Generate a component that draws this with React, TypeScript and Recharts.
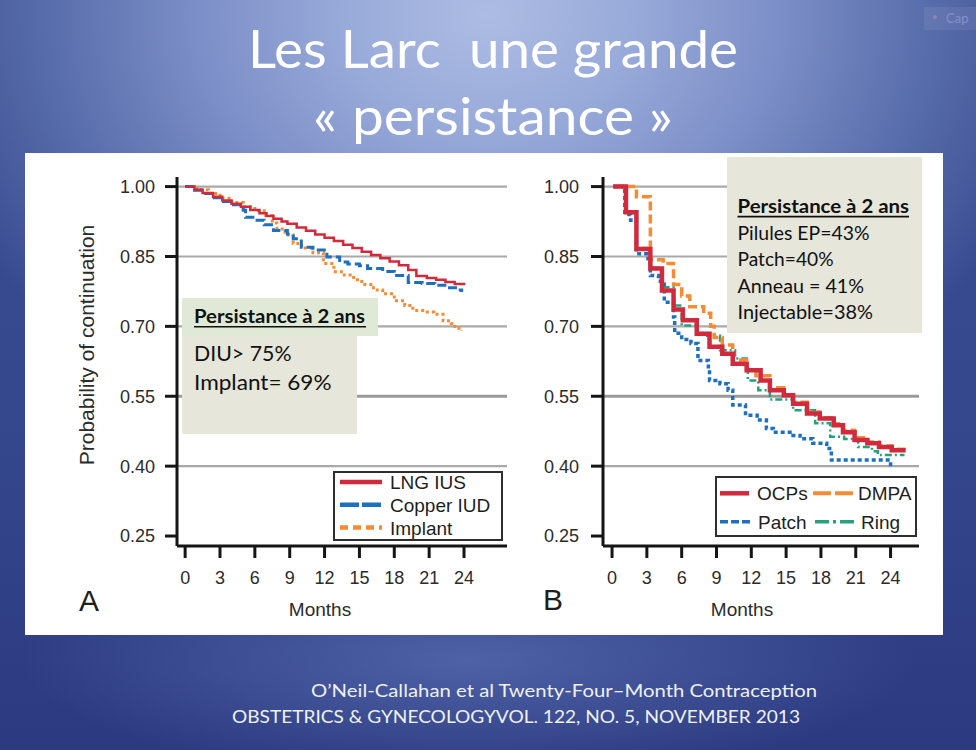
import React from 'react';
import { LineChart, Line, XAxis, YAxis, ReferenceLine, Legend } from 'recharts';

type Pt = { m: number; p: number };
const toPts = (rows: number[][]): Pt[] => rows.map(([m, p]) => ({ m, p }));

// ---------- shared axis values ----------
const monthTicks = [0, 3, 6, 9, 12, 15, 18, 21, 24];
const probTicks = [0.25, 0.4, 0.55, 0.7, 0.85, 1.0];
const gridValues = [0.4, 0.55, 0.7, 0.85, 1.0];

// ---------- Panel A (months, probability of continuation) ----------
const lngIus = toPts([
  [0, 1.0], [0.8, 0.993], [1.5, 0.986], [2.4, 0.978], [3.2, 0.97], [4.0, 0.963], [4.8, 0.957],
  [5.6, 0.95], [6.4, 0.943], [7.0, 0.937], [7.6, 0.931], [8.3, 0.925], [8.8, 0.92], [9.6, 0.912],
  [10.4, 0.905], [11.2, 0.897], [12.0, 0.89], [12.8, 0.883], [13.6, 0.875], [14.4, 0.868],
  [15.2, 0.86], [16.0, 0.853], [16.8, 0.846], [17.6, 0.839], [18.4, 0.831], [19.2, 0.821],
  [19.9, 0.808], [20.8, 0.804], [21.6, 0.8], [22.4, 0.795], [23.2, 0.791], [24.0, 0.788],
]);
const copperIud = toPts([
  [0, 1.0], [0.8, 0.992], [1.6, 0.985], [2.5, 0.976], [3.3, 0.968], [4.0, 0.961], [5.0, 0.949],
  [5.2, 0.934], [6.0, 0.928], [6.8, 0.918], [7.6, 0.906], [8.8, 0.898], [9.3, 0.888], [10.0, 0.87],
  [11.0, 0.864], [12.2, 0.849], [13.3, 0.838], [14.0, 0.834], [15.0, 0.83], [15.7, 0.824],
  [17.0, 0.818], [18.0, 0.809], [19.2, 0.794], [20.4, 0.792], [21.5, 0.788], [22.6, 0.783],
  [23.4, 0.778], [23.8, 0.774],
]);
const implant = toPts([
  [0, 1.0], [1.0, 0.993], [2.0, 0.985], [3.0, 0.975], [4.0, 0.966], [5.0, 0.957], [6.0, 0.948],
  [6.8, 0.938], [7.5, 0.922], [7.9, 0.909], [8.6, 0.896], [9.3, 0.878], [10.0, 0.868], [11.0, 0.858],
  [11.9, 0.835], [12.8, 0.817], [13.7, 0.81], [14.5, 0.8], [15.2, 0.79], [16.2, 0.778], [17.0, 0.77],
  [18.0, 0.755], [18.9, 0.745], [19.6, 0.734], [20.6, 0.731], [21.4, 0.726], [22.2, 0.712],
  [22.9, 0.706], [23.2, 0.696], [23.8, 0.691],
]);

// ---------- Panel B ----------
const ocps = toPts([
  [0.1, 1.0], [1.2, 0.945], [2.1, 0.866], [3.3, 0.824], [4.3, 0.777], [5.3, 0.736], [6.1, 0.713],
  [7.3, 0.684], [8.4, 0.656], [9.5, 0.641], [10.4, 0.62], [11.6, 0.606], [12.8, 0.584], [13.6, 0.563],
  [14.8, 0.552], [15.6, 0.534], [16.8, 0.513], [17.9, 0.502], [19.1, 0.488], [19.9, 0.473],
  [20.9, 0.456], [22.0, 0.449], [23.0, 0.441], [24.1, 0.434], [25.3, 0.434],
]);
const dmpa = toPts([
  [0.1, 1.0], [2.1, 0.978], [3.3, 0.843], [4.4, 0.835], [5.3, 0.79], [6.0, 0.765], [6.7, 0.742],
  [7.9, 0.728], [8.5, 0.7], [8.8, 0.676], [9.5, 0.66], [10.4, 0.628], [11.6, 0.606], [12.4, 0.594],
  [13.6, 0.568], [14.8, 0.553], [15.6, 0.537], [16.8, 0.516], [17.9, 0.504], [19.1, 0.491],
  [19.9, 0.477], [20.9, 0.461], [22.0, 0.452], [23.0, 0.443], [24.1, 0.436], [25.3, 0.43],
]);
const patch = toPts([
  [0.1, 1.0], [1.1, 0.94], [1.6, 0.928], [2.1, 0.856], [3.1, 0.845], [3.3, 0.809], [4.0, 0.797],
  [4.5, 0.752], [5.3, 0.72], [5.4, 0.685], [6.0, 0.672], [6.8, 0.663], [7.4, 0.627], [8.3, 0.606],
  [8.4, 0.584], [9.3, 0.577], [10.0, 0.563], [10.4, 0.531], [11.5, 0.509], [12.5, 0.499],
  [13.3, 0.481], [13.9, 0.473], [15.6, 0.466], [16.2, 0.459], [17.3, 0.449], [18.5, 0.438],
  [18.9, 0.413], [24.0, 0.413], [24.0, 0.399],
]);
const ring = toPts([
  [0.1, 1.0], [1.2, 0.945], [2.1, 0.868], [3.3, 0.826], [4.3, 0.784], [5.3, 0.745], [6.0, 0.702],
  [7.3, 0.686], [8.2, 0.68], [9.3, 0.649], [10.6, 0.631], [11.6, 0.617], [11.7, 0.584], [12.6, 0.563],
  [13.6, 0.543], [15.6, 0.52], [17.5, 0.492], [18.8, 0.463], [20.0, 0.458], [21.2, 0.441],
  [22.4, 0.432], [22.9, 0.424], [25.2, 0.424],
]);

// ---------- styles ----------
const AX_FONT = '"Liberation Sans", Arial, sans-serif';
const SLIDE_FONT = 'Lato, "Open Sans", sans-serif';
const RED = '#d02a3c';
const BLUE = '#1f6fbf';
const ORANGE = '#f68b36';
const GREEN = '#25a17c';

const seriesA = [
  { name: 'Implant', data: implant, color: ORANGE, width: 3, dash: '3 3' },
  { name: 'Copper IUD', data: copperIud, color: BLUE, width: 3, dash: '9 4' },
  { name: 'LNG IUS', data: lngIus, color: RED, width: 2.5, dash: undefined as string | undefined },
];
const seriesB = [
  { name: 'Patch', data: patch, color: BLUE, width: 3.5, dash: '4 3' },
  { name: 'Ring', data: ring, color: GREEN, width: 2.5, dash: '7 3 2 3' },
  { name: 'DMPA', data: dmpa, color: ORANGE, width: 3.5, dash: '9 4' },
  { name: 'OCPs', data: ocps, color: RED, width: 4.5, dash: undefined as string | undefined },
];

const legendA = [
  { name: 'LNG IUS', color: RED, dash: undefined as string | undefined },
  { name: 'Copper IUD', color: BLUE, dash: '19 3' },
  { name: 'Implant', color: ORANGE, dash: '8 5' },
];
const legendB = [
  { name: 'OCPs', color: RED, dash: undefined as string | undefined, x1: 5, x2: 34, tx: 42, row: 0, w: 4.5 },
  { name: 'DMPA', color: ORANGE, dash: '18 4', x1: 98, x2: 140, tx: 143, row: 0, w: 4 },
  { name: 'Patch', color: BLUE, dash: '8 3', x1: 5, x2: 37, tx: 43, row: 1, w: 3.5 },
  { name: 'Ring', color: GREEN, dash: '14 4 3 4', x1: 100, x2: 139, tx: 146, row: 1, w: 3.5 },
];

const tickStyle = { fontSize: 18, fill: '#2b2b2b', fontFamily: AX_FONT };
const axisStroke = { stroke: '#151515', strokeWidth: 3 };

const LegendBoxA = () => (
  <svg width={170} height={70} style={{ display: 'block' }}>
    <rect x={1} y={1} width={168} height={68} fill="#fff" stroke="#2e2e2e" strokeWidth={2} />
    {legendA.map((it, i) => {
      const cy = 11 + i * 22.8;
      return (
        <g key={it.name}>
          <line x1={7} x2={49} y1={cy} y2={cy} stroke={it.color} strokeWidth={4.5} strokeDasharray={it.dash} />
          <text x={57} y={cy + 7} fontSize={19} fontFamily={AX_FONT} fill="#1e1e1e">{it.name}</text>
        </g>
      );
    })}
  </svg>
);

const LegendBoxB = () => (
  <svg width={202} height={61} style={{ display: 'block' }}>
    <rect x={1} y={1} width={200} height={59} fill="#fff" stroke="#2e2e2e" strokeWidth={2} />
    {legendB.map((it) => {
      const cy = it.row === 0 ? 17.3 : 45.7;
      return (
        <g key={it.name}>
          <line x1={it.x1} x2={it.x2} y1={cy} y2={cy} stroke={it.color} strokeWidth={it.w} strokeDasharray={it.dash} />
          <text x={it.tx} y={cy + 7} fontSize={19} fontFamily={AX_FONT} fill="#1e1e1e">{it.name}</text>
        </g>
      );
    })}
  </svg>
);

const fmtProb = (v: number) => v.toFixed(2);

function PanelA() {
  return (
    <LineChart width={483} height={482} margin={{ top: 24, right: 1, bottom: 49, left: 72 }}>
      <XAxis dataKey="m" type="number" domain={[-0.7, 27.7]} ticks={monthTicks} interval={0}
        tick={tickStyle} tickSize={12} tickMargin={13} axisLine={axisStroke} tickLine={axisStroke} height={40} />
      <YAxis type="number" domain={[0.2286, 1.0206]} ticks={probTicks} interval={0} tickFormatter={fmtProb}
        tick={tickStyle} tickSize={12} tickMargin={10} axisLine={axisStroke} tickLine={axisStroke} width={80} />
      {gridValues.map((v) => (
        <ReferenceLine key={v} y={v} stroke={v === 0.55 ? '#9a9a9a' : '#a9a9a9'} strokeWidth={v === 0.55 ? 3.2 : 2.2} />
      ))}
      {seriesA.map((s) => (
        <Line key={s.name} name={s.name} data={s.data} dataKey="p" type="stepAfter" stroke={s.color}
          strokeWidth={s.width} strokeDasharray={s.dash} dot={false} activeDot={false} isAnimationActive={false} />
      ))}
      <Legend content={LegendBoxA} layout="vertical" align="center" verticalAlign="middle"
        wrapperStyle={{ left: 308, top: 318, width: 170, height: 70 }} />
    </LineChart>
  );
}

function PanelB() {
  return (
    <LineChart width={435} height={482} margin={{ top: 24, right: 24, bottom: 49, left: 15 }}>
      <XAxis dataKey="m" type="number" domain={[-0.78, 26.45]} ticks={monthTicks} interval={0}
        tick={tickStyle} tickSize={12} tickMargin={13} axisLine={axisStroke} tickLine={axisStroke} height={40} />
      <YAxis type="number" domain={[0.2286, 1.0206]} ticks={probTicks} interval={0} tickFormatter={fmtProb}
        tick={tickStyle} tickSize={12} tickMargin={12} axisLine={axisStroke} tickLine={axisStroke} width={80} />
      {gridValues.map((v) => (
        <ReferenceLine key={v} y={v} stroke={v === 0.55 ? '#9a9a9a' : '#a9a9a9'} strokeWidth={v === 0.55 ? 3.2 : 2.2} />
      ))}
      {seriesB.map((s) => (
        <Line key={s.name} name={s.name} data={s.data} dataKey="p" type="stepAfter" stroke={s.color}
          strokeWidth={s.width} strokeDasharray={s.dash} dot={false} activeDot={false} isAnimationActive={false} />
      ))}
      <Legend content={LegendBoxB} layout="vertical" align="center" verticalAlign="middle"
        wrapperStyle={{ left: 207, top: 323, width: 202, height: 61 }} />
    </LineChart>
  );
}

const BG = [
  'radial-gradient(ellipse 46% 16% at 48% 88%, rgba(84,104,172,0.85) 0%, rgba(84,104,172,0) 100%)',
  'radial-gradient(ellipse 60% 62% at 50% 2%, #adbce4 0%, #98aad9 25%, #7b8ec7 50%, #586dab 75%, rgba(64,82,150,0) 100%)',
  'linear-gradient(180deg, #3d4f94 0%, #34468c 60%, #2c3a80 100%)',
].join(', ');

export default function App() {
  return (
    <div style={{ position: 'absolute', left: 0, top: 0, width: 976, height: 750, overflow: 'hidden', background: BG }}>
      <div style={{ position: 'absolute', left: 25, top: 153, width: 918, height: 482, background: '#ffffff' }} />
      <div style={{ position: 'absolute', left: 25, top: 153 }}>
        <PanelA />
      </div>
      <div style={{ position: 'absolute', left: 508, top: 153 }}>
        <PanelB />
      </div>
      <svg width={976} height={750} style={{ position: 'absolute', left: 0, top: 0, pointerEvents: 'none' }}>
        {/* top-right artifact */}
        <rect x={924} y={7} width={52} height={23} fill="rgba(255,255,255,0.07)" />
        <circle cx={935} cy={17} r={2} fill="#8e86b8" />
        <text x={946} y={23} fontSize={13} fontFamily={SLIDE_FONT} fill="#8191cc">Cap</text>

        {/* title */}
        <text x={493} y={68} textAnchor="middle" fontSize={53} fontFamily={SLIDE_FONT} fill="#ffffff"
          style={{ whiteSpace: 'pre' }} textLength={490} lengthAdjust="spacingAndGlyphs">Les Larc  une grande</text>
        <text x={493} y={135} textAnchor="middle" fontSize={53} fontFamily={SLIDE_FONT} fill="#ffffff"
          textLength={360} lengthAdjust="spacingAndGlyphs">« persistance »</text>

        {/* axis titles and panel letters */}
        <text x={94} y={345} textAnchor="middle" fontSize={21} fontFamily={AX_FONT} fill="#2b2b2b"
          transform="rotate(-90 94 345)">Probability of continuation</text>
        <text x={320} y={616} textAnchor="middle" fontSize={19} fontFamily={AX_FONT} fill="#2b2b2b">Months</text>
        <text x={742} y={616} textAnchor="middle" fontSize={19} fontFamily={AX_FONT} fill="#2b2b2b">Months</text>
        <text x={79} y={611} fontSize={30} fontFamily={AX_FONT} fill="#1e1e1e">A</text>
        <text x={543} y={610} fontSize={30} fontFamily={AX_FONT} fill="#1e1e1e">B</text>

        {/* text box A */}
        <rect x={182} y={298} width={196} height={38} fill="#dfe9d6" />
        <rect x={182} y={336} width={175} height={98} fill="#e6e6da" />
        <text x={194} y={323} fontSize={19.5} fontWeight={700} fontFamily={SLIDE_FONT} fill="#111"
          textLength={171} lengthAdjust="spacingAndGlyphs">Persistance à 2 ans</text>
        <line x1={194} x2={366} y1={326.8} y2={326.8} stroke="#111" strokeWidth={1.6} />
        <text x={194} y={360.7} fontSize={22} fontFamily={SLIDE_FONT} fill="#111"
          textLength={97.5} lengthAdjust="spacingAndGlyphs">DIU&gt; 75%</text>
        <text x={194} y={390} fontSize={22} fontFamily={SLIDE_FONT} fill="#111"
          textLength={137.5} lengthAdjust="spacingAndGlyphs">Implant= 69%</text>

        {/* text box B */}
        <rect x={727} y={157} width={195} height={176} fill="#e6e6da" />
        <text x={737.5} y={213.3} fontSize={19.5} fontWeight={700} fontFamily={SLIDE_FONT} fill="#111"
          textLength={171.5} lengthAdjust="spacingAndGlyphs">Persistance à 2 ans</text>
        <line x1={737.5} x2={909} y1={216.6} y2={216.6} stroke="#111" strokeWidth={1.6} />
        <text x={737.5} y={239.5} fontSize={18.5} fontFamily={SLIDE_FONT} fill="#111"
          textLength={132} lengthAdjust="spacingAndGlyphs">Pilules EP=43%</text>
        <text x={737.5} y={266} fontSize={18.5} fontFamily={SLIDE_FONT} fill="#111"
          textLength={96} lengthAdjust="spacingAndGlyphs">Patch=40%</text>
        <text x={737.5} y={292.5} fontSize={18.5} fontFamily={SLIDE_FONT} fill="#111"
          textLength={126.5} lengthAdjust="spacingAndGlyphs">Anneau = 41%</text>
        <text x={737.5} y={319.3} fontSize={18.5} fontFamily={SLIDE_FONT} fill="#111"
          textLength={135.5} lengthAdjust="spacingAndGlyphs">Injectable=38%</text>

        {/* footer */}
        <text x={311} y={696.7} fontSize={18} fontFamily={SLIDE_FONT} fill="#eef1f8"
          textLength={506} lengthAdjust="spacingAndGlyphs">O’Neil-Callahan et al Twenty-Four–Month Contraception</text>
        <text x={232} y={722.7} fontSize={18} fontFamily={SLIDE_FONT} fill="#eef1f8"
          textLength={568} lengthAdjust="spacingAndGlyphs">OBSTETRICS &amp; GYNECOLOGYVOL. 122, NO. 5, NOVEMBER 2013</text>
      </svg>
    </div>
  );
}
